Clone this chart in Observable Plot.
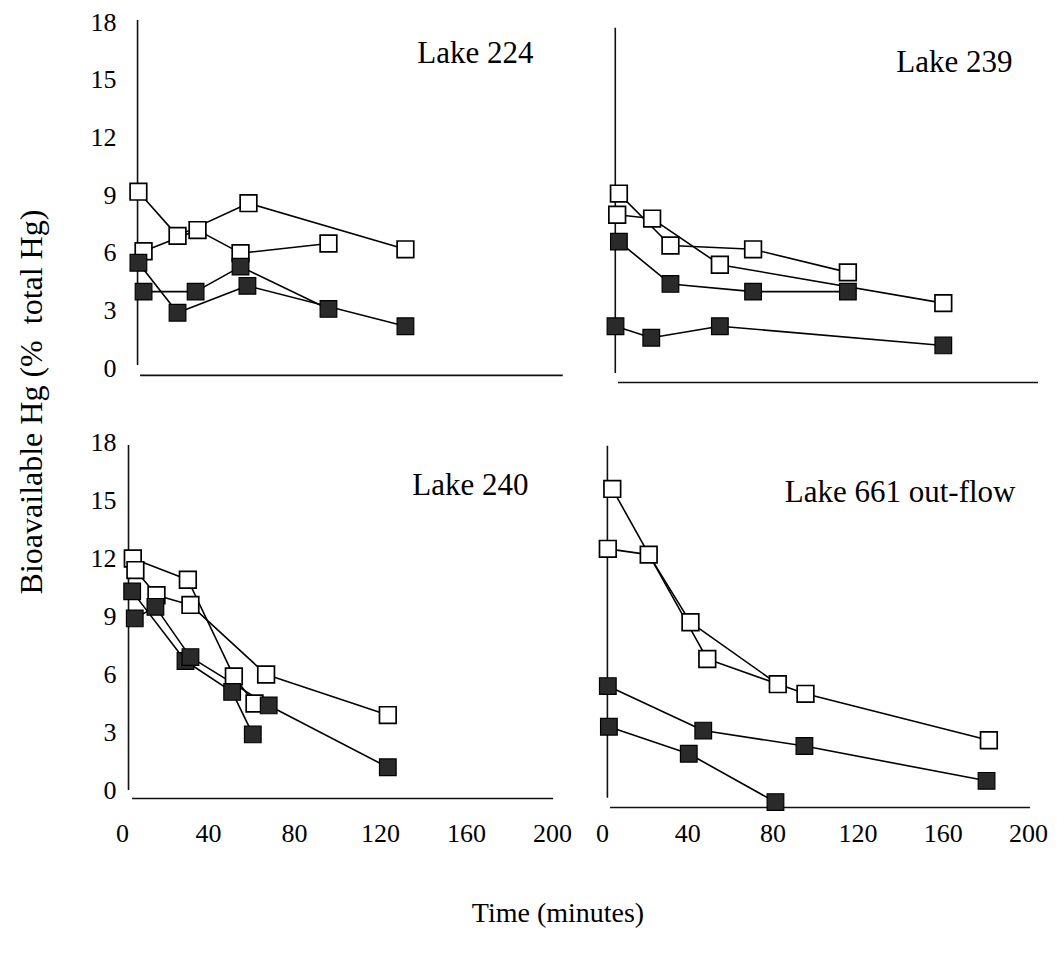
<!DOCTYPE html>
<html><head><meta charset="utf-8">
<script src="https://cdn.jsdelivr.net/npm/d3@7"></script>
<script src="https://cdn.jsdelivr.net/npm/@observablehq/plot@0.6"></script>
<style>
body{margin:0;background:#fff;}
#wrap{position:relative;width:1057px;height:955px;font-family:"Liberation Serif","Times New Roman",serif;color:#000;overflow:hidden;}
.pan{position:absolute;}
.pan svg{overflow:visible;}
.ylab{position:absolute;width:560px;height:38px;line-height:38px;text-align:center;font-size:32px;white-space:pre;transform:rotate(-90deg);transform-origin:50% 50%;}
.xlab{position:absolute;width:400px;text-align:center;font-size:28px;}
</style></head><body><div id="wrap"></div>
<script>
// ---- data (time in minutes, bioavailable Hg as % of total Hg) ----
const xTicks = [0, 40, 80, 120, 160, 200];
const yTicks = [0, 3, 6, 9, 12, 15, 18];
const lakes = ["Lake 224", "Lake 239", "Lake 240", "Lake 661 out-flow"];

// Lake 224
const l224_openA = [[7.4, 9.2], [25.6, 6.9], [58.6, 8.6], [131.6, 6.2]];
const l224_openB = [[9.8, 6.1], [34.9, 7.2], [54.9, 6.0], [95.8, 6.5]];
const l224_fillA = [[7.4, 5.5], [25.6, 2.9], [58.1, 4.3], [131.6, 2.2]];
const l224_fillB = [[9.8, 4.0], [34.0, 4.0], [54.9, 5.3], [95.8, 3.1]];
// Lake 239
const l239_openA = [[6.9, 8.0], [23.3, 7.8], [55.1, 5.4], [160.0, 3.4]];
const l239_openB = [[7.7, 9.1], [31.9, 6.4], [70.7, 6.2], [115.2, 5.0]];
const l239_fillA = [[7.7, 6.6], [31.9, 4.4], [70.7, 4.0], [115.2, 4.0]];
const l239_fillB = [[6.1, 2.2], [22.9, 1.6], [55.1, 2.2], [160.0, 1.2]];
// Lake 240
const l240_openA = [[4.8, 12.0], [30.4, 10.9], [51.8, 5.9], [61.4, 4.5]];
const l240_openB = [[6.0, 11.4], [15.8, 10.1], [31.6, 9.6], [66.8, 6.0], [123.4, 3.9]];
const l240_fillA = [[4.5, 10.3], [29.3, 6.7], [51.0, 5.1], [60.6, 2.9]];
const l240_fillB = [[5.7, 8.9], [15.3, 9.5], [31.6, 6.9], [68.0, 4.4], [123.4, 1.2]];
// Lake 661 out-flow
const l661_openA = [[2.5, 12.5], [21.7, 12.2], [41.3, 8.7], [82.3, 5.5]];
const l661_openB = [[4.6, 15.6], [49.2, 6.8], [95.3, 5.0], [181.4, 2.6]];
const l661_fillA = [[2.5, 5.4], [47.3, 3.1], [94.8, 2.3], [180.3, 0.5]];
const l661_fillB = [[3.0, 3.3], [40.5, 1.9], [81.2, -0.6]];

function rows(lake, key, filled, arr) {
  return arr.map(([t, v]) => ({lake, key, filled, t, v}));
}
const seriesByLake = [
  [...rows(lakes[0], "oA", false, l224_openA), ...rows(lakes[0], "oB", false, l224_openB),
   ...rows(lakes[0], "fA", true, l224_fillA), ...rows(lakes[0], "fB", true, l224_fillB)],
  [...rows(lakes[1], "oA", false, l239_openA), ...rows(lakes[1], "oB", false, l239_openB),
   ...rows(lakes[1], "fA", true, l239_fillA), ...rows(lakes[1], "fB", true, l239_fillB)],
  [...rows(lakes[2], "oA", false, l240_openA), ...rows(lakes[2], "oB", false, l240_openB),
   ...rows(lakes[2], "fA", true, l240_fillA), ...rows(lakes[2], "fB", true, l240_fillB)],
  [...rows(lakes[3], "oA", false, l661_openA), ...rows(lakes[3], "oB", false, l661_openB),
   ...rows(lakes[3], "fA", true, l661_fillA), ...rows(lakes[3], "fB", true, l661_fillB)]
];

// ---- layout of the four panels ----
const panelCfg = [
  {left: 0,   top: 0,   width: 590, height: 400, mL: 122, mR: 38, mT: 22, mB: 32, yAxis: true,  xAxis: false,
   vx: 7,   vy: [0.15, 18.1], hy: -0.36, hx: [8.4, 205],   tdx: -19, tdy: 31},
  {left: 560, top: 0,   width: 497, height: 400, mL: 42,  mR: 29, mT: 22, mB: 32, yAxis: false, xAxis: false,
   vx: 6,   vy: [-0.26, 17.7], hy: -0.73, hx: [7.5, 204.7], tdx: -16, tdy: 40},
  {left: 0,   top: 420, width: 590, height: 430, mL: 122, mR: 38, mT: 22, mB: 60, yAxis: true,  xAxis: true,
   vx: 2.8, vy: [0, 17.85],   hy: -0.41, hx: [4.7, 200.5], tdx: -24, tdy: 43},
  {left: 560, top: 420, width: 497, height: 430, mL: 42,  mR: 29, mT: 22, mB: 60, yAxis: false, xAxis: true,
   vx: 2.3, vy: [-0.4, 17.8],  hy: -0.88, hx: [3.8, 200.9], tdx: -13, tdy: 50}
];

const wrap = document.getElementById("wrap");
const FONT = "'Liberation Serif','Times New Roman',serif";

panelCfg.forEach((c, i) => {
  const data = seriesByLake[i];
  const marks = [
    Plot.ruleX([c.vx], {y1: c.vy[0], y2: c.vy[1], stroke: "#111", strokeWidth: 1.6}),
    Plot.ruleY([c.hy], {x1: c.hx[0], x2: c.hx[1], stroke: "#111", strokeWidth: 1.6}),
    Plot.line(data, {x: "t", y: "v", z: "key", stroke: "#000", strokeWidth: 1.6}),
    Plot.dot(data.filter(d => !d.filled), {x: "t", y: "v", symbol: "square", r: 9.4, fill: "white", stroke: "#000", strokeWidth: 1.7}),
    Plot.dot(data.filter(d => d.filled), {x: "t", y: "v", symbol: "square", r: 9.4, fill: "#2a2a2a", stroke: "#000", strokeWidth: 1.2}),
    Plot.text([lakes[i]], {frameAnchor: "top-right", textAnchor: "end", lineAnchor: "middle", dx: c.tdx, dy: c.tdy,
      fontSize: 31, fontFamily: FONT, fill: "#000"})
  ];
  if (c.yAxis) marks.push(Plot.axisY(yTicks, {tickSize: 0, tickPadding: 6, fontSize: 26, fontFamily: FONT, fill: "#000", label: null}));
  if (c.xAxis) marks.push(Plot.axisX(xTicks, {tickSize: 0, tickPadding: 33, fontSize: 26, fontFamily: FONT, fill: "#000", label: null}));
  const svg = Plot.plot({
    width: c.width, height: c.height,
    marginLeft: c.mL, marginRight: c.mR, marginTop: c.mT, marginBottom: c.mB,
    x: {domain: [0, 200], axis: null, label: null},
    y: {domain: [0, 18], axis: null, label: null},
    style: {fontFamily: FONT, background: "transparent", overflow: "visible", color: "#000"},
    marks
  });
  const div = document.createElement("div");
  div.className = "pan";
  div.style.left = c.left + "px";
  div.style.top = c.top + "px";
  div.appendChild(svg);
  wrap.appendChild(div);
});

const yl = document.createElement("div");
yl.className = "ylab";
yl.textContent = "Bioavailable Hg (%  total Hg)";
yl.style.left = (31 - 280) + "px";
yl.style.top = (402 - 19) + "px";
wrap.appendChild(yl);

const xl = document.createElement("div");
xl.className = "xlab";
xl.textContent = "Time (minutes)";
xl.style.left = (558 - 200) + "px";
xl.style.top = "897px";
wrap.appendChild(xl);
</script></body></html>
